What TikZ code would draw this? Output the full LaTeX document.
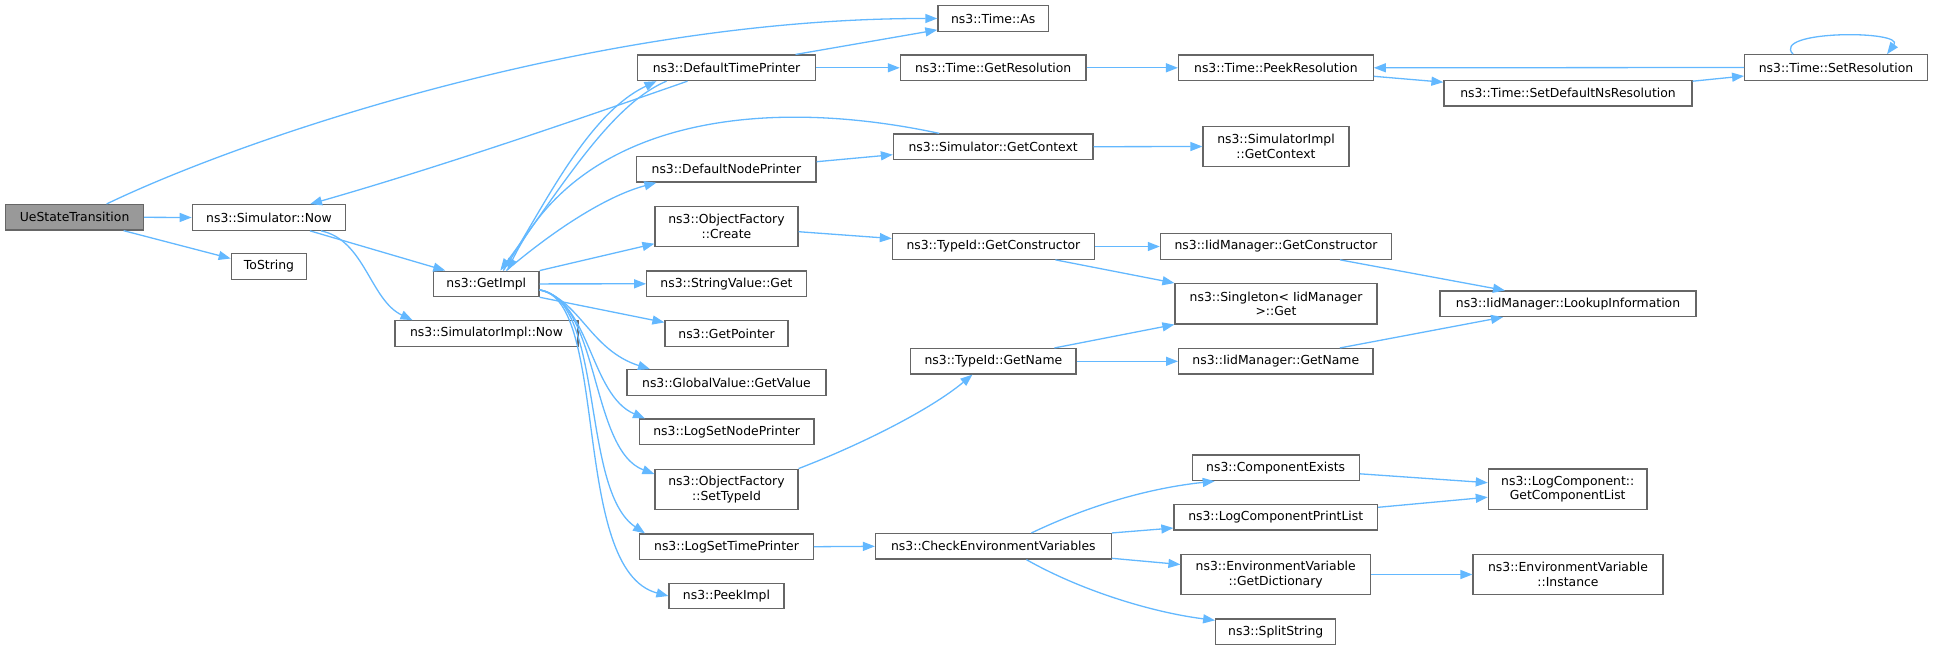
\documentclass[tikz,border=0pt]{standalone}
\usepackage{fontspec}
\setmainfont{DejaVu Sans}
\usetikzlibrary{arrows.meta}
\definecolor{callblue}{HTML}{63B8FF}
\definecolor{boxgray}{HTML}{666666}
\definecolor{rootgray}{HTML}{999999}
\begin{document}
\begin{tikzpicture}[x=1pt,y=-1pt,
	fn/.style={draw=boxgray,fill=white,line width=1.2pt,inner sep=0pt,minimum height=25.5pt,align=center,font=\fontsize{12.4}{14.7}\selectfont},
	fn2/.style={fn,minimum height=40.3pt},
	call/.style={draw=callblue,line width=1.3pt,-{Triangle[length=12pt,width=9pt]}}]
				\useasboundingbox (0,0) rectangle (1933,649)
				;
				\node[fn,fill=rootgray,minimum width=137.6pt] (ue) at (74.6,217.3) {UeStateTransition}
				;
				\foreach \n/\x/\y/\w/\t in {
					now/269/217.5/153.4/{ns3::Simulator::Now},
					tostr/269/266.5/75.5/{ToString},
					getimpl/486.3/283.9/105.5/{ns3::GetImpl},
					implnow/486.5/333.5/183/{ns3::SimulatorImpl::Now},
					dtp/726.5/67.8/178/{ns3::DefaultTimePrinter},
					dnp/726.4/169.3/179.3/{ns3::DefaultNodePrinter},
					strget/726.5/283.8/159.6/{ns3::StringValue::Get},
					getptr/726.5/333.4/123/{ns3::GetPointer},
					getval/726.5/382.5/199/{ns3::GlobalValue::GetValue},
					lognode/726.7/431.8/174.7/{ns3::LogSetNodePrinter},
					logtime/726.5/546.7/173.6/{ns3::LogSetTimePrinter},
					peek/726.5/596/115/{ns3::PeekImpl},
					as/993.2/18.5/110.5/{ns3::Time::As},
					getres/993.2/67.8/185.6/{ns3::Time::GetResolution},
					getctx/993.2/146.7/199.5/{ns3::Simulator::GetContext},
					tidctor/993.4/246.5/202/{ns3::TypeId::GetConstructor},
					tidname/993.4/361.3/165.3/{ns3::TypeId::GetName},
					checkenv/993.4/546.3/235.7/{ns3::CheckEnvironmentVariables},
					peekres/1275.9/67.8/194.7/{ns3::Time::PeekResolution},
					iidctor/1276/246.5/231.2/{ns3::IidManager::GetConstructor},
					iidname/1275.8/361.3/194.4/{ns3::IidManager::GetName},
					compex/1275.7/467.8/167/{ns3::ComponentExists},
					printlist/1275.7/517.3/203.5/{ns3::LogComponentPrintList},
					split/1275.7/631.7/120/{ns3::SplitString},
					setdef/1568/93.2/248/{ns3::Time::SetDefaultNsResolution},
					lookup/1568/303.8/256/{ns3::IidManager::LookupInformation},
					setres/1836/67.5/182.7/{ns3::Time::SetResolution}}
					\node[fn,minimum width=\w pt] (\n) at (\x,\y) {\t}
				;
				\foreach \n/\x/\y/\w/\t in {
					create/726.5/226.7/143/{ns3::ObjectFactory\\::Create},
					settype/726.5/489.3/143/{ns3::ObjectFactory\\::SetTypeId},
					implctx/1276/146.5/146/{ns3::SimulatorImpl\\::GetContext},
					singleton/1276/303.8/202/{ns3::Singleton< IidManager\\ >::Get},
					getdict/1275.7/574.5/189.4/{ns3::EnvironmentVariable\\::GetDictionary},
					complist/1567.7/489.2/158.7/{ns3::LogComponent::\\GetComponentList},
					instance/1568/574.5/190/{ns3::EnvironmentVariable\\::Instance}}
					\node[fn2,minimum width=\w pt] (\n) at (\x,\y) {\t}
				;
				\draw[call] ([xshift=32pt]ue.north) .. controls (250,135) and (600,18) .. (as.west);
				\draw[call] (ue.east) -- (now.west);
				\draw[call] ([xshift=49pt]ue.south) -- ([yshift=8pt]tostr.west);
				\draw[call] ([xshift=41pt]now.south) -- ([xshift=-41pt]getimpl.north);
				\draw[call] ([xshift=52pt]now.south) .. controls (365,240) and (370,300) .. ([xshift=-74pt]implnow.north);
				\draw[call] ([xshift=-39pt]dtp.south) .. controls (562,125) and (436,168) .. ([xshift=41pt]now.north);
				\draw[call] ([xshift=69pt]dtp.north) -- ([yshift=2pt]as.south west);
				\draw[call] (dtp.east) -- (getres.west);
				\draw[call] (getres.east) -- (peekres.west);
				\draw[call] ([yshift=-8.5pt]peekres.east) -- ([yshift=11pt]setdef.west);
				\draw[call] ([yshift=12pt]setdef.east) -- ([yshift=-8.5pt]setres.west);
				\draw[call] (setres.west) -- (peekres.east);
				\draw[call] ([xshift=-43pt]setres.north) .. controls (1770,30) and (1905,30) .. ([xshift=51pt]setres.north)
				;
				\draw[call] ([xshift=17pt]getimpl.north) .. controls (540,215) and (585,115) .. ([xshift=-70pt]dtp.south);
				\draw[call] ([xshift=-60pt]dtp.south) .. controls (610,105) and (560,190) .. ([xshift=14pt]getimpl.north);
				\draw[call] ([xshift=-54pt]getctx.north) .. controls (760,95) and (580,120) .. ([xshift=21pt]getimpl.north);
				\draw[call] ([xshift=20pt]getimpl.north) .. controls (560,225) and (610,195) .. ([xshift=-70pt]dnp.south);
				\draw[call] (getimpl.north east) -- ([yshift=-17pt]create.west);
				\draw[call] (getimpl.east) -- (strget.west);
				\draw[call] (getimpl.south east) -- ([yshift=11pt]getptr.west);
				\draw[call] ([yshift=-6pt]getimpl.east) .. controls (580,300) and (590,350) .. ([xshift=-76.5pt]getval.north);
				\draw[call] ([yshift=-6pt]getimpl.east) .. controls (590,300) and (590,395) .. ([xshift=-81.7pt]lognode.north);
				\draw[call] ([yshift=-6pt]getimpl.east) .. controls (600,300) and (590,450) .. ([yshift=15.3pt]settype.west);
				\draw[call] ([yshift=-6pt]getimpl.east) .. controls (605,300) and (580,490) .. ([xshift=-81.5pt]logtime.north);
				\draw[call] ([yshift=-6pt]getimpl.east) .. controls (610,300) and (570,570) .. (peek.west)
				;
				\draw[call] ([yshift=7.6pt]dnp.east) -- ([yshift=-8pt]getctx.west);
				\draw[call] (getctx.east) -- (implctx.west);
				\draw[call] ([yshift=-5pt]create.east) -- ([yshift=8pt]tidctor.west);
				\draw[call] (tidctor.east) -- (iidctor.west);
				\draw[call] ([xshift=62pt]tidctor.south) -- (singleton.north west);
				\draw[call] ([xshift=64pt]iidctor.south) -- ([xshift=-63pt]lookup.north);
				\draw[call] ([xshift=61pt]tidname.north) -- (singleton.south west);
				\draw[call] (tidname.east) -- (iidname.west);
				\draw[call] ([xshift=64pt]iidname.north) -- ([xshift=-65pt]lookup.south);
				\draw[call] (settype.north east) .. controls (860,445) and (930,410) .. ([xshift=-21pt]tidname.south)
				;
				\draw[call] (logtime.east) -- (checkenv.west);
				\draw[call] ([xshift=38pt]checkenv.north) .. controls (1090,505) and (1150,488) .. ([xshift=-61pt]compex.south);
				\draw[call] (checkenv.north east) -- ([yshift=-10.7pt]printlist.west);
				\draw[call] ([yshift=-12pt]checkenv.east) -- ([yshift=10pt]getdict.west);
				\draw[call] ([xshift=33pt]checkenv.south) .. controls (1080,590) and (1150,612) .. ([yshift=-2pt]split.north west);
				\draw[call] ([yshift=-6pt]compex.east) -- ([yshift=6.5pt]complist.west);
				\draw[call] ([yshift=10pt]printlist.east) -- ([yshift=-8pt]complist.west);
				\draw[call] (getdict.east) -- (instance.west)
				;
\end{tikzpicture}
\end{document}
